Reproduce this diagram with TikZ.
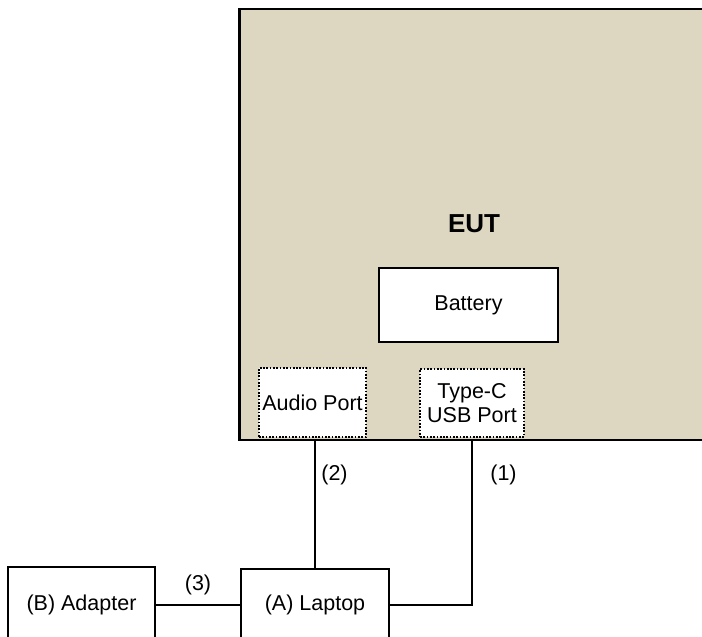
\documentclass[tikz,border=0pt]{standalone}
\usepackage{fontspec}
\setmainfont{Liberation Sans}
\definecolor{euttan}{RGB}{221,215,194}
\begin{document}
\begin{tikzpicture}[x=1pt,y=-1pt,
  box/.style={draw=black,line width=2.2pt,fill=white,rectangle,inner sep=0pt,
    font=\fontsize{21.5}{25}\selectfont},
  port/.style={draw=black,line width=1.7pt,dash pattern=on 1.7pt off 1.6pt,fill=white,rectangle,inner sep=0pt,
    font=\fontsize{21.5}{24}\selectfont,align=center},
  wire/.style={draw=black,line width=2.2pt},
  lbl/.style={font=\fontsize{21.5}{25}\selectfont,inner sep=0pt}]
\useasboundingbox (0,0) rectangle (702,637);
\clip (0,0) rectangle (702,637);
\fill[white] (0,0) rectangle (702,637);
% EUT
\node[draw=black,line width=2.6pt,fill=euttan,rectangle,inner sep=0pt,
  minimum width=482pt,minimum height=431pt,anchor=north west] (eut) at (238,7.5) {};
\node[font=\bfseries\fontsize{26}{30}\selectfont,inner sep=0pt] (euttxt) at (474,224) {EUT};
\node[box,minimum width=179pt,minimum height=74pt] (bat) at (468.5,305) {Battery};
\node[port,minimum width=107pt,minimum height=69pt] (audio) at (312.5,402.5) {Audio Port};
\node[port,minimum width=104pt,minimum height=68pt] (usb) at (472,403) {Type-C\\USB Port};
% external
\node[box,minimum width=147pt,minimum height=76pt] (adapter) at (81.5,605) {(B) Adapter};
\node[box,minimum width=148pt,minimum height=72pt] (laptop) at (315,605) {(A) Laptop};
% connectors
\draw[wire] (laptop.north) -- (laptop.north |- eut.south);
\draw[wire] (laptop.east) -- (usb.south |- laptop.east) -- (usb.south |- eut.south);
\draw[wire] (adapter.east) -- (laptop.west);
% labels
\node[lbl] (l2) at (334.5,475) {(2)};
\node[lbl] (l1) at (503.5,475) {(1)};
\node[lbl] (l3) at (198,585) {(3)};
\end{tikzpicture}
\end{document}
